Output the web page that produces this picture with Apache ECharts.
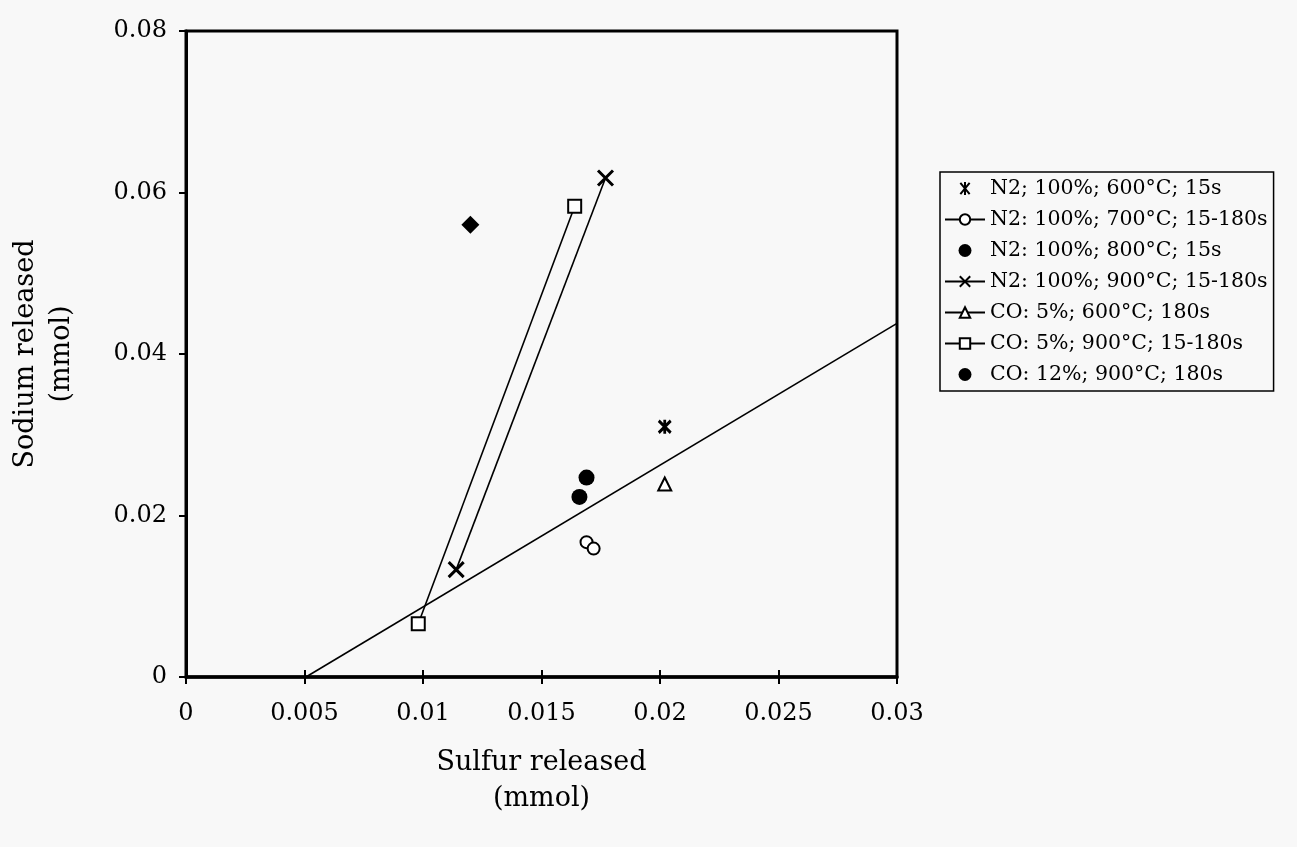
<!DOCTYPE html>
<html>
<head>
<meta charset="utf-8">
<script src="https://cdn.jsdelivr.net/npm/echarts@6/dist/echarts.min.js"></script>
<style>
html,body{margin:0;padding:0;background:#f8f8f8;}
#chart{width:1297px;height:847px;}
</style>
</head>
<body>
<div id="chart"></div>
<script>
// ---- data ----
const seriesNames = [
  'N2; 100%; 600°C; 15s',
  'N2: 100%; 700°C; 15-180s',
  'N2: 100%; 800°C; 15s',
  'N2: 100%; 900°C; 15-180s',
  'CO: 5%; 600°C; 180s',
  'CO: 5%; 900°C; 15-180s',
  'CO: 12%; 900°C; 180s'
];
const n2_600 = [[0.0202, 0.0310]];
const n2_700 = [[0.0169, 0.0167], [0.0172, 0.0159]];
const n2_800 = [[0.0166, 0.0223]];
const n2_900 = [[0.0114, 0.0133], [0.0177, 0.0618]];
const co5_600 = [[0.0202, 0.0239]];
const co5_900 = [[0.0098, 0.0066], [0.0164, 0.0583]];
const co12_900 = [[0.0169, 0.0247]];
const extraPoint = [[0.0120, 0.0560]];
const trendLine = [[0.00506, 0], [0.03, 0.0438]];
const xTicks = [0, 0.005, 0.01, 0.015, 0.02, 0.025, 0.03];
const yTicks = [0, 0.02, 0.04, 0.06, 0.08];

const FONT = 'DejaVu Serif';
const asterisk = 'path://M0,0L10,12M10,0L0,12M5,-1L5,13';
const cross = 'path://M0,0L10,10M10,0L0,10';

const chart = echarts.init(document.getElementById('chart'));
const black = '#000';
const lineStyle = {color: black, width: 1.6};
const fmt = v => String(parseFloat(v.toFixed(4)));
const option = {
  backgroundColor: '#f8f8f8',
  animation: false,
  textStyle: {fontFamily: FONT, color: black},
  grid: {left: 185, right: 400, top: 31, bottom: 170, show: true, borderColor: black, borderWidth: 3, backgroundColor: 'transparent'},
  legend: {
    data: seriesNames,
    orient: 'vertical',
    left: 940, top: 172,
    padding: [6, 6, 6, 4],
    itemWidth: 40, itemHeight: 13, itemGap: 10,
    borderColor: black, borderWidth: 1.5,
    textStyle: {fontFamily: FONT, fontSize: 20.5, color: black},
    inactiveColor: black
  },
  xAxis: [{
    type: 'value', min: 0, max: 0.03, interval: 0.005,
    axisLine: {show: true, lineStyle: {color: black, width: 3.5}},
    axisTick: {show: true, length: 7, lineStyle: {color: black, width: 2}},
    axisLabel: {fontFamily: FONT, fontSize: 24, color: black, margin: 25, formatter: fmt},
    splitLine: {show: false},
    name: 'Sulfur released\n(mmol)', nameLocation: 'middle', nameGap: 68,
    nameTextStyle: {fontFamily: FONT, fontSize: 27, color: black, lineHeight: 36}
  }, {
    type: 'value', min: 0, max: 0.03, interval: 0.005, position: 'bottom',
    axisLine: {show: false},
    axisTick: {show: true, inside: true, length: 7, lineStyle: {color: black, width: 2}},
    axisLabel: {show: false}, splitLine: {show: false}
  }],
  yAxis: {
    type: 'value', min: 0, max: 0.08, interval: 0.02,
    axisLine: {show: true, lineStyle: {color: black, width: 3}},
    axisTick: {show: true, length: 7, lineStyle: {color: black, width: 2}},
    axisLabel: {fontFamily: FONT, fontSize: 24, color: black, margin: 19, formatter: fmt},
    splitLine: {show: false},
    name: 'Sodium released\n(mmol)', nameLocation: 'middle', nameGap: 106, nameRotate: 90,
    nameTextStyle: {fontFamily: FONT, fontSize: 27, color: black, lineHeight: 36}
  },
  series: [
    {name: seriesNames[0], type: 'scatter', data: n2_600, symbol: asterisk, symbolSize: [12, 14],
      itemStyle: {color: black, borderColor: black, borderWidth: 3, opacity: 1}},
    {name: seriesNames[1], type: 'line', data: n2_700, symbol: 'emptyCircle', symbolSize: 12,
      lineStyle: lineStyle, itemStyle: {color: black, borderColor: black, borderWidth: 3}},
    {name: seriesNames[2], type: 'scatter', data: n2_800, symbol: 'circle', symbolSize: 16,
      itemStyle: {color: black, opacity: 1}},
    {name: seriesNames[3], type: 'line', data: n2_900, symbol: cross, symbolSize: 15,
      lineStyle: lineStyle, itemStyle: {color: black, borderColor: black, borderWidth: 3}},
    {name: seriesNames[4], type: 'line', data: co5_600, symbol: 'emptyTriangle', symbolSize: 13,
      lineStyle: lineStyle, itemStyle: {color: black, borderColor: black, borderWidth: 3}},
    {name: seriesNames[5], type: 'line', data: co5_900, symbol: 'emptyRect', symbolSize: 13,
      lineStyle: lineStyle, itemStyle: {color: black, borderColor: black, borderWidth: 3}},
    {name: seriesNames[6], type: 'scatter', data: co12_900, symbol: 'circle', symbolSize: 16,
      itemStyle: {color: black, opacity: 1}},
    {name: 'extra', type: 'scatter', data: extraPoint, symbol: 'diamond', symbolSize: 18,
      itemStyle: {color: black, opacity: 1}},
    {name: 'trend', type: 'line', data: trendLine, symbol: 'none',
      lineStyle: lineStyle}
  ]
};
chart.setOption(option);
</script>
</body>
</html>
